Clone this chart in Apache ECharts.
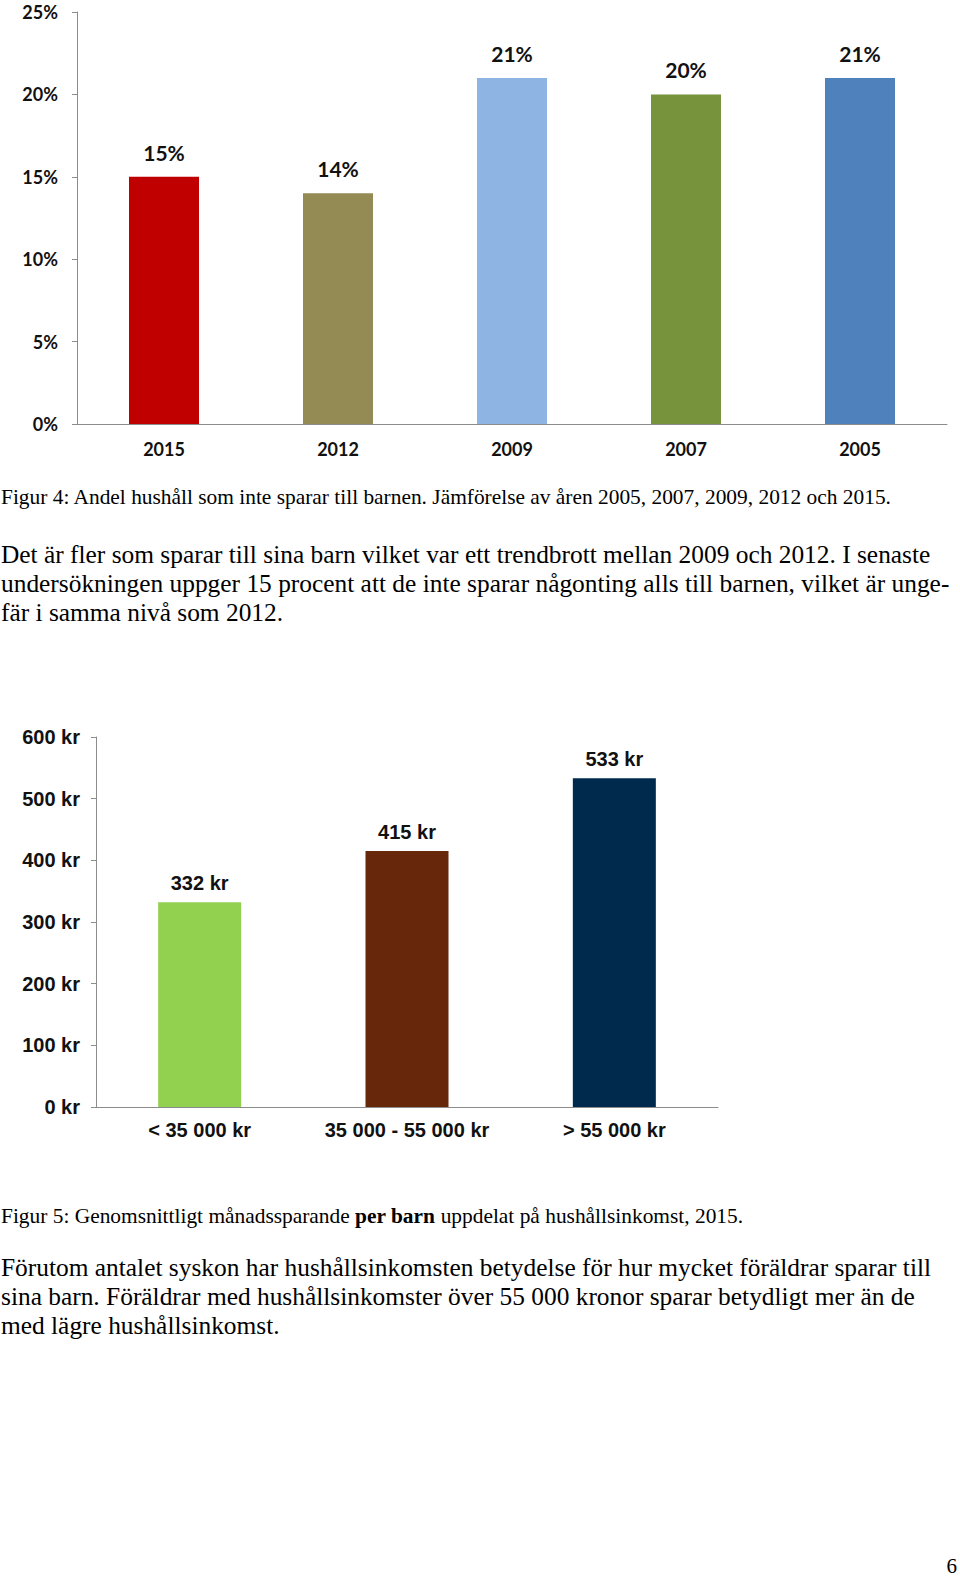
<!DOCTYPE html>
<html>
<head>
<meta charset="utf-8">
<script src="https://cdn.jsdelivr.net/npm/echarts@6/dist/echarts.min.js"></script>
<style>
  html, body { margin: 0; padding: 0; background: #fff; }
  #page { width: 960px; height: 1578px; }
</style>
</head>
<body>
<div id="page"></div>
<script>
// Figur 4: share of households not saving for their children
const years = ['2015', '2012', '2009', '2007', '2005'];
const notSavingPct = [15, 14, 21, 20, 21];
const yearColors = ['#C00000', '#948A54', '#8DB4E2', '#77933C', '#4F81BD'];
const pctTicks = { min: 0, max: 25, interval: 5 };

// Figur 5: monthly saving per child by household income
const incomeGroups = ['< 35 000 kr', '35 000 - 55 000 kr', '> 55 000 kr'];
const savingKr = [332, 415, 533];
const incomeColors = ['#92D050', '#66270A', '#002A4D'];
const krTicks = { min: 0, max: 600, interval: 100 };

const axisGrey = '#8C8C8C';
const serif = '"Liberation Serif", "DejaVu Serif", serif';
const bodySize = 25.4;
const captionSize = 21.4;

const chart = echarts.init(document.getElementById('page'), null, { renderer: 'svg' });

function textLine(text, x, y, size, align) {
  return {
    type: 'text',
    x: x,
    y: y,
    style: {
      text: text,
      font: size + 'px ' + serif,
      fill: '#000',
      align: align || 'left',
      verticalAlign: 'middle'
    }
  };
}

const option = {
  animation: false,
  backgroundColor: '#fff',
  grid: [
    { left: 77, top: 12, width: 870, height: 412 },
    { left: 96, top: 737, width: 622, height: 370 }
  ],
  xAxis: [
    {
      gridIndex: 0,
      type: 'category',
      data: years,
      axisLine: { lineStyle: { color: axisGrey } },
      axisTick: { length: 5, lineStyle: { color: axisGrey } },
      axisLabel: { interval: 0, margin: 16, color: '#111', fontFamily: 'Lato', fontWeight: 'bold', fontSize: 18 }
    },
    {
      gridIndex: 1,
      type: 'category',
      data: incomeGroups,
      axisLine: { lineStyle: { color: axisGrey } },
      axisTick: { length: 5, lineStyle: { color: axisGrey } },
      axisLabel: { interval: 0, margin: 13, color: '#111', fontFamily: 'Liberation Sans', fontWeight: 'bold', fontSize: 20 }
    }
  ],
  yAxis: [
    {
      gridIndex: 0,
      type: 'value',
      min: pctTicks.min,
      max: pctTicks.max,
      interval: pctTicks.interval,
      splitLine: { show: false },
      axisLine: { show: true, lineStyle: { color: axisGrey } },
      axisTick: { show: true, length: 5, lineStyle: { color: axisGrey } },
      axisLabel: { margin: 19, formatter: '{value}%', color: '#111', fontFamily: 'Lato', fontWeight: 'bold', fontSize: 18 }
    },
    {
      gridIndex: 1,
      type: 'value',
      min: krTicks.min,
      max: krTicks.max,
      interval: krTicks.interval,
      splitLine: { show: false },
      axisLine: { show: true, lineStyle: { color: axisGrey } },
      axisTick: { show: true, length: 5, lineStyle: { color: axisGrey } },
      axisLabel: { margin: 16, formatter: '{value} kr', color: '#111', fontFamily: 'Liberation Sans', fontWeight: 'bold', fontSize: 20 }
    }
  ],
  series: [
    {
      type: 'bar',
      xAxisIndex: 0,
      yAxisIndex: 0,
      barWidth: 70,
      data: notSavingPct.map((v, i) => ({ value: v, itemStyle: { color: yearColors[i] } })),
      label: {
        show: true,
        position: 'top',
        distance: 14,
        formatter: '{c}%',
        color: '#111',
        fontFamily: 'Lato',
        fontWeight: 'bold',
        fontSize: 21
      }
    },
    {
      type: 'bar',
      xAxisIndex: 1,
      yAxisIndex: 1,
      barWidth: 83,
      data: savingKr.map((v, i) => ({ value: v, itemStyle: { color: incomeColors[i] } })),
      label: {
        show: true,
        position: 'top',
        distance: 9,
        formatter: '{c} kr',
        color: '#111',
        fontFamily: 'Liberation Sans',
        fontWeight: 'bold',
        fontSize: 20
      }
    }
  ],
  graphic: [
    textLine('Figur 4: Andel hushåll som inte sparar till barnen. Jämförelse av åren 2005, 2007, 2009, 2012 och 2015.', 1, 497, captionSize),
    textLine('Det är fler som sparar till sina barn vilket var ett trendbrott mellan 2009 och 2012. I senaste', 1, 554, bodySize),
    textLine('undersökningen uppger 15 procent att de inte sparar någonting alls till barnen, vilket är unge-', 1, 583, bodySize),
    textLine('fär i samma nivå som 2012.', 1, 612, bodySize),
    {
      type: 'text',
      x: 1,
      y: 1216,
      style: {
        text: '{n|Figur 5: Genomsnittligt månadssparande }{b|per barn}{n| uppdelat på hushållsinkomst, 2015.}',
        verticalAlign: 'middle',
        rich: {
          n: { fontFamily: serif, fontSize: captionSize, color: '#000' },
          b: { fontFamily: serif, fontSize: captionSize, fontWeight: 'bold', color: '#000' }
        }
      }
    },
    textLine('Förutom antalet syskon har hushållsinkomsten betydelse för hur mycket föräldrar sparar till', 1, 1267, bodySize),
    textLine('sina barn. Föräldrar med hushållsinkomster över 55 000 kronor sparar betydligt mer än de', 1, 1296, bodySize),
    textLine('med lägre hushållsinkomst.', 1, 1325, bodySize),
    textLine('6', 957, 1566, 21, 'right')
  ]
};

chart.setOption(option);
</script>
</body>
</html>
